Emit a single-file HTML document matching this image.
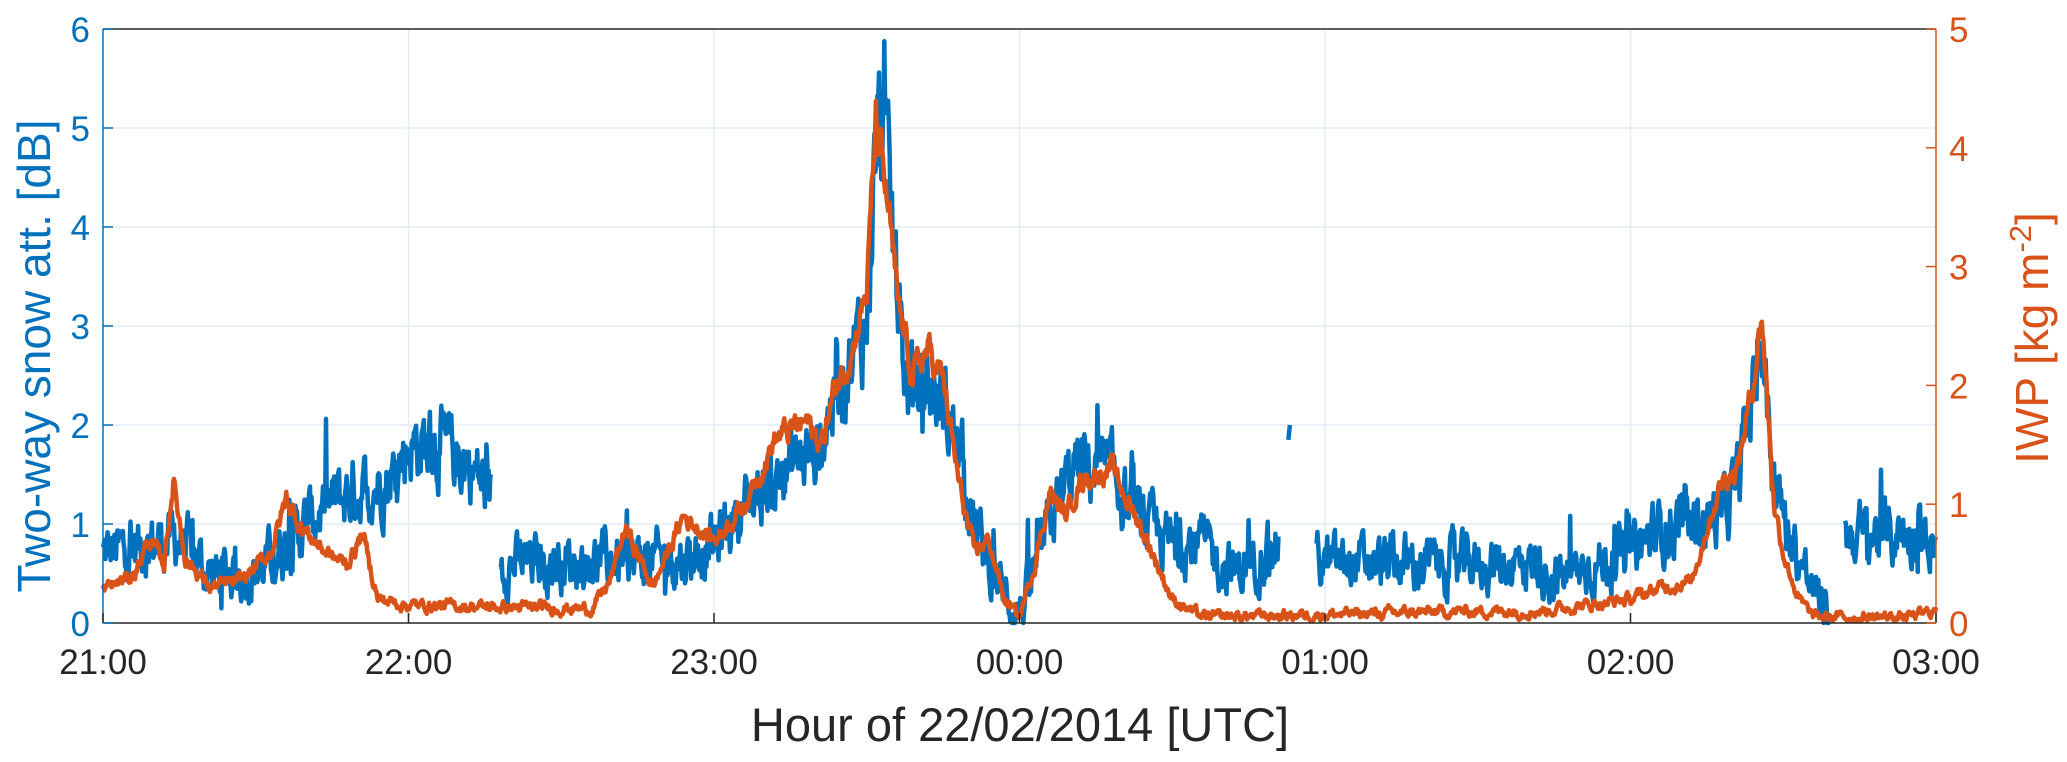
<!DOCTYPE html>
<html><head><meta charset="utf-8"><style>
html,body{margin:0;padding:0;background:#fff;}
svg{display:block;font-family:"Liberation Sans",Arial,sans-serif;}
</style></head><body>
<svg id="s" width="2067" height="762" viewBox="0 0 2067 762" xmlns="http://www.w3.org/2000/svg">
<g id="grid" stroke="#e3ecf5" stroke-width="1.5"></g>
<path id="blue" fill="none" stroke="#0072BD" stroke-width="4.5" stroke-linejoin="round"/>
<path id="orange" fill="none" stroke="#D95319" stroke-width="4.5" stroke-linejoin="round"/>
<line x1="103" y1="29" x2="1936" y2="29" stroke="#262626" stroke-width="1.5"/>
<line x1="103" y1="623" x2="1936" y2="623" stroke="#262626" stroke-width="1.5"/>
<line x1="103" y1="29" x2="103" y2="623" stroke="#0072BD" stroke-width="1.5"/>
<line x1="1936" y1="29" x2="1936" y2="623" stroke="#D95319" stroke-width="1.5"/>
<g id="ticks"></g>
<g id="labels" font-size="35"></g>
<text x="1020" y="741" font-size="47" fill="#262626" text-anchor="middle">Hour of 22/02/2014 [UTC]</text>
<text transform="translate(50,356) rotate(-90)" font-size="46" fill="#0072BD" text-anchor="middle">Two-way snow att. [dB]</text>
<text transform="translate(2048,338) rotate(-90)" font-size="46" fill="#D95319" text-anchor="middle">IWP [kg m<tspan font-size="31" dy="-17">-2</tspan><tspan dy="17">]</tspan></text>
</svg>
<script>
var L=103,R=1936,T=29,B=623,W=R-L,H=B-T;
function X(h){return L+h/6*W;}
function YB(v){return B-v/6*H;}
function YO(v){return B-v/5*H;}
var ns="http://www.w3.org/2000/svg";
function el(p,t,a,txt){var e=document.createElementNS(ns,t);for(var k in a)e.setAttribute(k,a[k]);if(txt!==undefined)e.textContent=txt;document.getElementById(p).appendChild(e);}
for(var i=1;i<6;i++)el('grid','line',{x1:X(i),y1:T,x2:X(i),y2:B});
for(var i=1;i<6;i++)el('grid','line',{x1:L,y1:YB(i),x2:R,y2:YB(i)});
var xl=['21:00','22:00','23:00','00:00','01:00','02:00','03:00'];
for(var i=0;i<=6;i++){el('labels','text',{x:X(i),y:674,'text-anchor':'middle',fill:'#262626'},xl[i]);
 el('ticks','line',{x1:X(i),y1:B,x2:X(i),y2:B-10,stroke:'#262626','stroke-width':1.5});}
for(var i=0;i<=6;i++){el('labels','text',{x:90,y:YB(i)+13,'text-anchor':'end',fill:'#0072BD'},''+i);
 el('ticks','line',{x1:L,y1:YB(i),x2:L+10,y2:YB(i),stroke:'#0072BD','stroke-width':1.5});}
for(var i=0;i<=5;i++){el('labels','text',{x:1949,y:YO(i)+13,'text-anchor':'start',fill:'#D95319'},''+i);
 el('ticks','line',{x1:R,y1:YO(i),x2:R-10,y2:YO(i),stroke:'#D95319','stroke-width':1.5});}
var seed=12345;function rnd(){seed=(seed*1103515245+12345)%2147483648;return seed/2147483648;}
function interp(k,h){for(var i=0;i<k.length-1;i++){if(h<=k[i+1][0]){var t=(h-k[i][0])/(k[i+1][0]-k[i][0]);return k[i][1]+(k[i+1][1]-k[i][1])*t;}}return k[k.length-1][1];}
var bk=[[0,0.7],[0.15,0.8],[0.25,0.85],[0.35,0.5],[0.5,0.5],[0.6,0.8],[0.7,1.1],[0.8,1.3],[0.9,1.4],[0.95,1.5],[1.0,1.8],[1.1,1.8],[1.2,1.6],[1.27,1.3],[1.3,0.6],[1.9,0.65],[2.0,0.8],[2.1,1.2],[2.2,1.45],[2.3,1.7],[2.35,1.8],[2.4,2.4],[2.45,2.7],[2.5,3.0],[2.52,4.3],[2.54,5.2],[2.57,4.4],[2.6,3.4],[2.63,2.4],[2.7,2.4],[2.75,2.2],[2.8,1.8],[2.85,1.0],[2.9,0.6],[2.95,0.3],[3.0,0.1],[3.05,0.5],[3.1,1.0],[3.15,1.4],[3.2,1.6],[3.3,1.5],[3.4,1.0],[3.5,0.8],[3.6,0.8],[3.7,0.5],[3.84,0.8],[4.0,0.6],[4.35,0.6],[4.7,0.6],[4.75,0.45],[5.0,0.7],[5.1,0.95],[5.2,1.0],[5.3,1.1],[5.35,1.4],[5.38,2.0],[5.43,2.9],[5.47,1.4],[5.52,0.9],[5.6,0.3],[5.65,0.1],[5.7,0.9],[6,0.9]];
var ok=[[0,0.28],[0.1,0.4],[0.15,0.7],[0.2,0.5],[0.23,1.2],[0.27,0.55],[0.35,0.3],[0.45,0.35],[0.55,0.6],[0.6,1.05],[0.65,0.8],[0.75,0.55],[0.8,0.5],[0.85,0.75],[0.9,0.2],[1.0,0.15],[1.6,0.12],[1.66,0.35],[1.71,0.8],[1.8,0.3],[1.9,0.9],[2.0,0.7],[2.1,1.0],[2.2,1.55],[2.3,1.7],[2.35,1.5],[2.4,2.0],[2.45,2.3],[2.5,2.8],[2.53,4.2],[2.57,3.5],[2.6,2.7],[2.65,2.1],[2.7,2.3],[2.75,2.05],[2.8,1.2],[2.85,0.6],[2.9,0.7],[2.95,0.2],[3.0,0.05],[3.05,0.5],[3.1,1.1],[3.15,0.9],[3.2,1.2],[3.3,1.3],[3.4,0.8],[3.5,0.2],[3.6,0.05],[4.5,0.1],[4.7,0.1],[5.0,0.2],[5.1,0.3],[5.2,0.35],[5.25,0.8],[5.3,1.2],[5.35,1.3],[5.4,2.0],[5.43,2.6],[5.47,1.0],[5.5,0.6],[5.55,0.2],[5.6,0.05],[5.9,0.05],[6.0,0.1]];
var gaps=[[1.27,1.3],[3.85,3.97],[5.65,5.7]];
function inGap(h){for(var g of gaps)if(h>g[0]&&h<g[1])return true;return false;}
var d='',pen=false,n=2400,nz=0;
for(var i=0;i<=n;i++){var h=i/n*6;if(inGap(h)){pen=false;continue;}
 var b=interp(bk,h);nz=nz*0.6+(rnd()-0.5)*0.55;var v=b+nz*(0.6+0.25*b)+(rnd()<0.03?(rnd()-0.4)*1.0:0);
 if(v<0)v=0;d+=(pen?'L':'M')+X(h).toFixed(1)+' '+YB(v).toFixed(1);pen=true;}
d+='M'+X(3.88)+' '+YB(1.85)+'L'+X(3.885)+' '+YB(2.0);
document.getElementById('blue').setAttribute('d',d);
d='';var o=0;
for(var i=0;i<=n;i++){var h=i/n*6;var b=interp(ok,h);o=o*0.7+(rnd()-0.5)*0.06;var v=b+o*(1+b);if(v<0.02)v=0.02;
 d+=(i?'L':'M')+X(h).toFixed(1)+' '+YO(v).toFixed(1);}
document.getElementById('orange').setAttribute('d',d);
</script>
</body></html>
